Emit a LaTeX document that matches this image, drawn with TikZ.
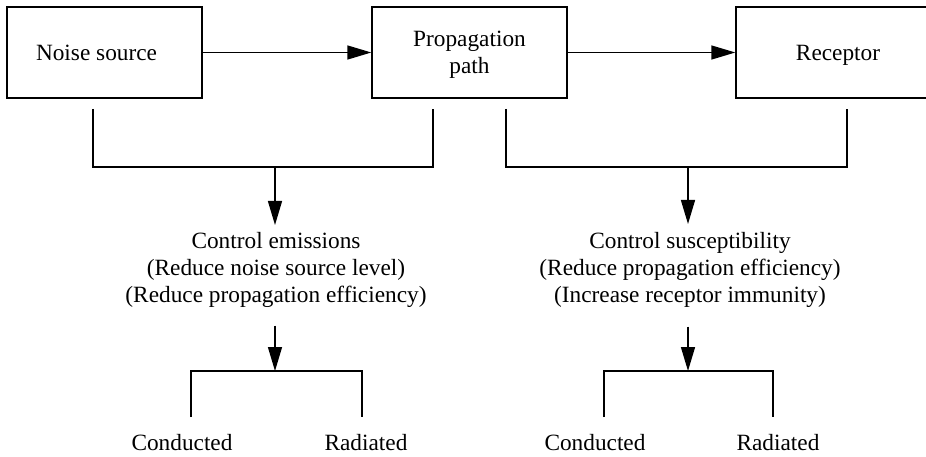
\documentclass[tikz,border=0pt]{standalone}
\usepackage{fontspec}
\setmainfont{Liberation Serif}
\usetikzlibrary{arrows.meta}
\begin{document}
\begin{tikzpicture}[x=1pt,y=-1pt,
  every node/.style={font=\fontsize{23.3}{27}\selectfont},
  box/.style={draw,line width=1.4pt,minimum width=195pt,minimum height=91pt,inner sep=0pt,align=center,text depth=0pt},
  lbl/.style={inner sep=0pt,align=center},
  conn/.style={line width=1.4pt},
  arr/.style={conn,-{Triangle[length=24pt,width=14pt]}}]
\useasboundingbox (0,0) rectangle (926,457);
\clip (0,0) rectangle (926,457);
\fill[white] (0,0) rectangle (926,457);
% top boxes
\node[box] (ns) at (104.5,52.5) {Noise source\hspace*{16pt}};
\node[box] (pp) at (469.5,52.5) {Propagation\\path};
\node[box,minimum width=204pt] (rc) at (838,52.5) {Receptor};
\draw[arr] (ns.east) -- (pp.west);
\draw[arr] (pp.east) -- (rc.west);
% left bracket
\coordinate (l1) at (93,109);
\coordinate (l2) at (433,109);
\coordinate (lm) at (275,167);
\draw[conn] (l1) |- (lm) -| (l2);
\node[lbl,anchor=north] (ce) at (276,232) {Control emissions\\(Reduce noise source level)\\(Reduce propagation efficiency)};
\draw[arr,shorten >=7pt] (lm) -- (lm |- ce.north);
% right bracket
\coordinate (r1) at (506,109);
\coordinate (r2) at (847,109);
\coordinate (rm) at (688,167);
\draw[conn] (r1) |- (rm) -| (r2);
\node[lbl,anchor=north] (cs) at (690,232) {Control susceptibility\\(Reduce propagation efficiency)\\(Increase receptor immunity)};
\draw[arr,shorten >=8pt] (rm) -- (rm |- cs.north);
% bottom left
\coordinate (lb) at (275,371);
\coordinate (lb1) at (191,417);
\coordinate (lb2) at (362,417);
\draw[arr,shorten <=18pt] (lb |- ce.south) -- (lb);
\draw[conn] (lb1) |- (lb) -| (lb2);
\node[lbl,anchor=base] (cl) at (182,450) {Conducted};
\node[lbl,anchor=base] (rl) at (366,450) {Radiated};
% bottom right
\coordinate (rb) at (688,371);
\coordinate (rb1) at (604,417);
\coordinate (rb2) at (773,417);
\draw[arr,shorten <=19pt] (rb |- cs.south) -- (rb);
\draw[conn] (rb1) |- (rb) -| (rb2);
\node[lbl,anchor=base] (cr) at (595,450) {Conducted};
\node[lbl,anchor=base] (rr) at (778,450) {Radiated};
\end{tikzpicture}
\end{document}
